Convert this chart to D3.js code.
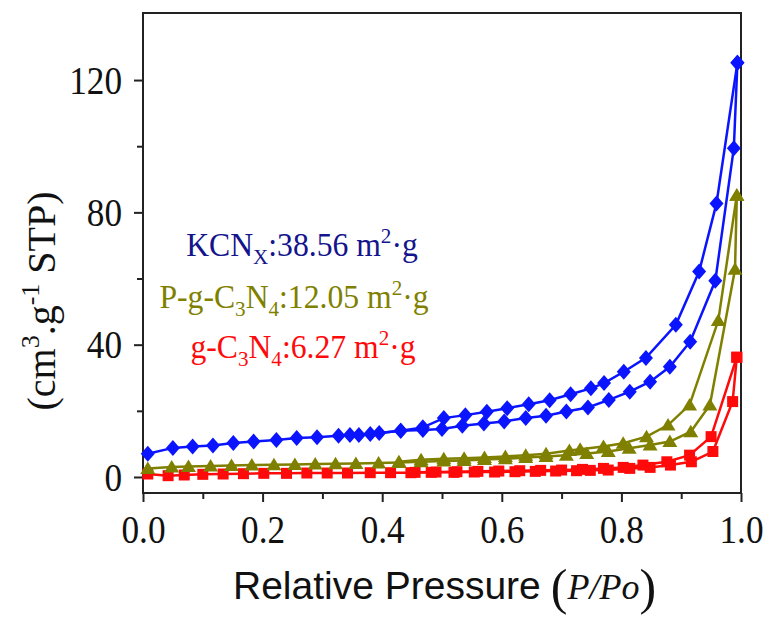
<!DOCTYPE html>
<html>
<head>
<meta charset="utf-8">
<script src="https://cdn.jsdelivr.net/npm/d3@7"></script>
<style>
  body { margin: 0; background: #fff; }
  svg { display: block; }
</style>
</head>
<body>
<div id="chart"></div>
<script>
// N2 adsorption / desorption isotherms

// KCNx (blue diamonds)
var kcnAdsX = [0.008, 0.05, 0.083, 0.117, 0.151, 0.185, 0.223, 0.257, 0.291, 0.327, 0.361, 0.395, 0.431, 0.468, 0.5, 0.534, 0.57, 0.604, 0.64, 0.674, 0.708, 0.744, 0.779, 0.814, 0.848, 0.881, 0.915, 0.957, 0.988, 0.994];
var kcnAdsY = [7, 8.8, 9.2, 9.5, 10.3, 10.7, 11.2, 11.8, 12, 12.5, 12.7, 13.3, 14, 14.2, 14.5, 15.5, 16.2, 16.8, 17.8, 18.5, 19.8, 21, 23.3, 25.8, 28.8, 33.3, 40.9, 59.3, 99.4, 125.2];
var kcnDesX = [0.994, 0.959, 0.93, 0.891, 0.841, 0.804, 0.771, 0.749, 0.715, 0.68, 0.645, 0.609, 0.575, 0.539, 0.503, 0.468, 0.431, 0.38, 0.346];
var kcnDesY = [125.2, 82.7, 62.1, 46, 36, 31.8, 28.4, 26.8, 25, 23.2, 22, 20.8, 19.7, 18.7, 17.8, 15, 14, 13, 12.7];

// P-g-C3N4 (olive triangles)
var pcnAdsX = [0.008, 0.048, 0.076, 0.113, 0.148, 0.182, 0.219, 0.254, 0.288, 0.322, 0.356, 0.394, 0.428, 0.465, 0.503, 0.537, 0.571, 0.606, 0.64, 0.674, 0.708, 0.742, 0.778, 0.813, 0.848, 0.881, 0.916, 0.948, 0.99, 0.993];
var pcnAdsY = [2.6, 3.0, 3.2, 3.3, 3.5, 3.6, 3.7, 3.8, 3.9, 4.0, 4.1, 4.2, 4.4, 4.6, 4.8, 5.0, 5.3, 5.5, 5.9, 6.2, 6.6, 7.1, 7.7, 8.7, 9.7, 10.7, 13.7, 21.8, 62.8, 85.2];
var pcnDesX = [0.993, 0.962, 0.914, 0.878, 0.842, 0.803, 0.77, 0.731, 0.713, 0.674, 0.64, 0.606, 0.571, 0.537, 0.503, 0.465, 0.428];
var pcnDesY = [85.2, 47.3, 21.8, 15.7, 12.2, 10.2, 9.2, 8.4, 8.0, 7.0, 6.6, 6.2, 5.9, 5.7, 5.5, 5.2, 4.6];

// g-C3N4 (red squares)
var gcnAdsX = [0.008, 0.042, 0.069, 0.1, 0.134, 0.168, 0.202, 0.24, 0.274, 0.308, 0.342, 0.38, 0.414, 0.448, 0.482, 0.52, 0.554, 0.588, 0.622, 0.656, 0.69, 0.725, 0.748, 0.778, 0.814, 0.848, 0.882, 0.917, 0.953, 0.986, 0.993];
var gcnAdsY = [0.9, 0.4, 0.6, 0.8, 0.9, 1.0, 1.1, 1.1, 1.2, 1.2, 1.2, 1.3, 1.3, 1.3, 1.4, 1.4, 1.5, 1.5, 1.6, 1.7, 1.8, 1.9, 2.0, 2.1, 2.6, 2.9, 3.6, 4.6, 7.7, 22.8, 36.2];
var gcnDesX = [0.993, 0.95, 0.914, 0.876, 0.836, 0.803, 0.77, 0.735, 0.7, 0.665, 0.63, 0.595, 0.56, 0.525, 0.49, 0.455];
var gcnDesY = [36.2, 12.2, 6.6, 4.6, 3.6, 2.9, 2.6, 2.3, 2.1, 2.0, 1.9, 1.8, 1.7, 1.6, 1.5, 1.4];

var xMajor = [0, 0.2, 0.4, 0.6, 0.8, 1.0];
var xMinor = [0.1, 0.3, 0.5, 0.7, 0.9];
var yMajor = [0, 40, 80, 120];
var yMinor = [20, 60, 100];

var width = 770, height = 619;
var plotL = 143, plotR = 741, plotT = 13, plotB = 493;
var sx = 0.86; // the picture is a bit squeezed sideways

var svg = d3.select("#chart").append("svg")
  .attr("width", width)
  .attr("height", height);

var x = d3.scaleLinear().domain([0, 1]).range([plotL, plotR]);
var y = d3.scaleLinear().domain([-4.84, 140.27]).range([plotB, plotT]);

function zip(a, b) {
  return a.map(function(v, i) { return [v, b[i]]; });
}

// axes
var xAxis = svg.append("g")
  .attr("transform", "translate(0," + plotB + ")")
  .call(d3.axisBottom(x).tickValues(xMajor).tickSize(9).tickPadding(12)
    .tickFormat(d3.format(".1f")));
svg.append("g")
  .attr("transform", "translate(0," + plotB + ")")
  .call(d3.axisBottom(x).tickValues(xMinor).tickSize(6).tickFormat(""));
var yAxis = svg.append("g")
  .attr("transform", "translate(" + plotL + ",0)")
  .call(d3.axisLeft(y).tickValues(yMajor).tickSize(9).tickPadding(12));
svg.append("g")
  .attr("transform", "translate(" + plotL + ",0)")
  .call(d3.axisLeft(y).tickValues(yMinor).tickSize(6).tickFormat(""));

svg.selectAll(".domain").remove();
svg.selectAll(".tick line").attr("stroke", "#222").attr("stroke-width", 2);
svg.selectAll(".tick text")
  .attr("font-family", "'Liberation Serif', 'Times New Roman', serif")
  .attr("font-size", 41)
  .attr("fill", "#111");
xAxis.selectAll(".tick text").attr("transform", "scale(" + sx + ",1)");
yAxis.selectAll(".tick text")
  .attr("x", -21 / sx)
  .attr("transform", "scale(" + sx + ",1)");

// frame
svg.append("rect")
  .attr("x", plotL).attr("y", plotT)
  .attr("width", plotR - plotL).attr("height", plotB - plotT)
  .attr("fill", "none").attr("stroke", "#222").attr("stroke-width", 2);

// series
var line = d3.line()
  .x(function(d) { return x(d[0]); })
  .y(function(d) { return y(d[1]); });

var shapes = {
  square: "M-5.5,-5.5H5.5V5.5H-5.5Z",
  triangle: "M0,-7L7.5,5.5L-7.5,5.5Z",
  diamond: "M0,-8L7,0L0,8L-7,0Z"
};

function drawSeries(branches, color, shape) {
  var g = svg.append("g");
  branches.forEach(function(pts) {
    g.append("path")
      .datum(pts)
      .attr("d", line)
      .attr("fill", "none")
      .attr("stroke", color)
      .attr("stroke-width", 2.5);
  });
  branches.forEach(function(pts) {
    g.selectAll(null)
      .data(pts)
      .enter()
      .append("path")
      .attr("d", shapes[shape])
      .attr("transform", function(d) {
        return "translate(" + x(d[0]) + "," + y(d[1]) + ")";
      })
      .attr("fill", color);
  });
}

drawSeries([zip(gcnAdsX, gcnAdsY), zip(gcnDesX, gcnDesY)], "#ff0a0a", "square");
drawSeries([zip(pcnAdsX, pcnAdsY), zip(pcnDesX, pcnDesY)], "#808000", "triangle");
drawSeries([zip(kcnAdsX, kcnAdsY), zip(kcnDesX, kcnDesY)], "#0a14ff", "diamond");

// labels inside the plot
var serif = "'Liberation Serif', 'Times New Roman', serif";

function label(cx, cy, color, parts) {
  var t = svg.append("text")
    .attr("transform", "translate(" + cx + "," + cy + ") scale(0.96,1)")
    .attr("text-anchor", "middle")
    .attr("font-family", serif)
    .attr("font-size", 33)
    .attr("fill", color);
  parts.forEach(function(p) {
    var s = t.append("tspan").text(p[0]);
    if (p[1] === "sub") s.attr("font-size", 22).attr("dy", 8);
    else if (p[1] === "sup") s.attr("font-size", 22).attr("dy", -13);
    else if (p[1] === "back") s.attr("dy", p[2]);
  });
}

label(302, 256, "#14148c", [["KCN"], ["X", "sub"], [":38.56 m", "back", -8], ["2", "sup"], ["\u00b7g", "back", 13]]);
label(294, 308, "#808000", [["P-g-C"], ["3", "sub"], ["N", "back", -8], ["4", "sub"], [":12.05 m", "back", -8], ["2", "sup"], ["\u00b7g", "back", 13]]);
label(303, 358, "#ff0a0a", [["g-C"], ["3", "sub"], ["N", "back", -8], ["4", "sub"], [":6.27 m", "back", -8], ["2", "sup"], ["\u00b7g", "back", 13]]);

// y axis title
var yt = svg.append("text")
  .attr("transform", "translate(55,301) rotate(-90)")
  .attr("text-anchor", "middle")
  .attr("font-family", serif)
  .attr("font-size", 40)
  .attr("fill", "#111");
yt.append("tspan").text("(cm");
yt.append("tspan").text("3").attr("font-size", 26).attr("dy", -16);
yt.append("tspan").text(".g").attr("dy", 16);
yt.append("tspan").text("-1").attr("font-size", 26).attr("dy", -16);
yt.append("tspan").text(" STP)").attr("dy", 16);

// x axis title
var xt = svg.append("text")
  .attr("transform", "translate(233,599)")
  .attr("font-family", "'Liberation Sans', Arial, sans-serif")
  .attr("font-size", 39)
  .attr("fill", "#111");
xt.append("tspan").text("Relative Pressure");
xt.append("tspan").text("(").attr("font-family", serif).attr("font-size", 50).attr("dx", 10).attr("dy", 5);
xt.append("tspan").text("P/Po").attr("font-family", serif).attr("font-style", "italic").attr("font-size", 36).attr("dy", -5);
xt.append("tspan").text(")").attr("font-family", serif).attr("font-size", 50).attr("dy", 5);
</script>
</body>
</html>
